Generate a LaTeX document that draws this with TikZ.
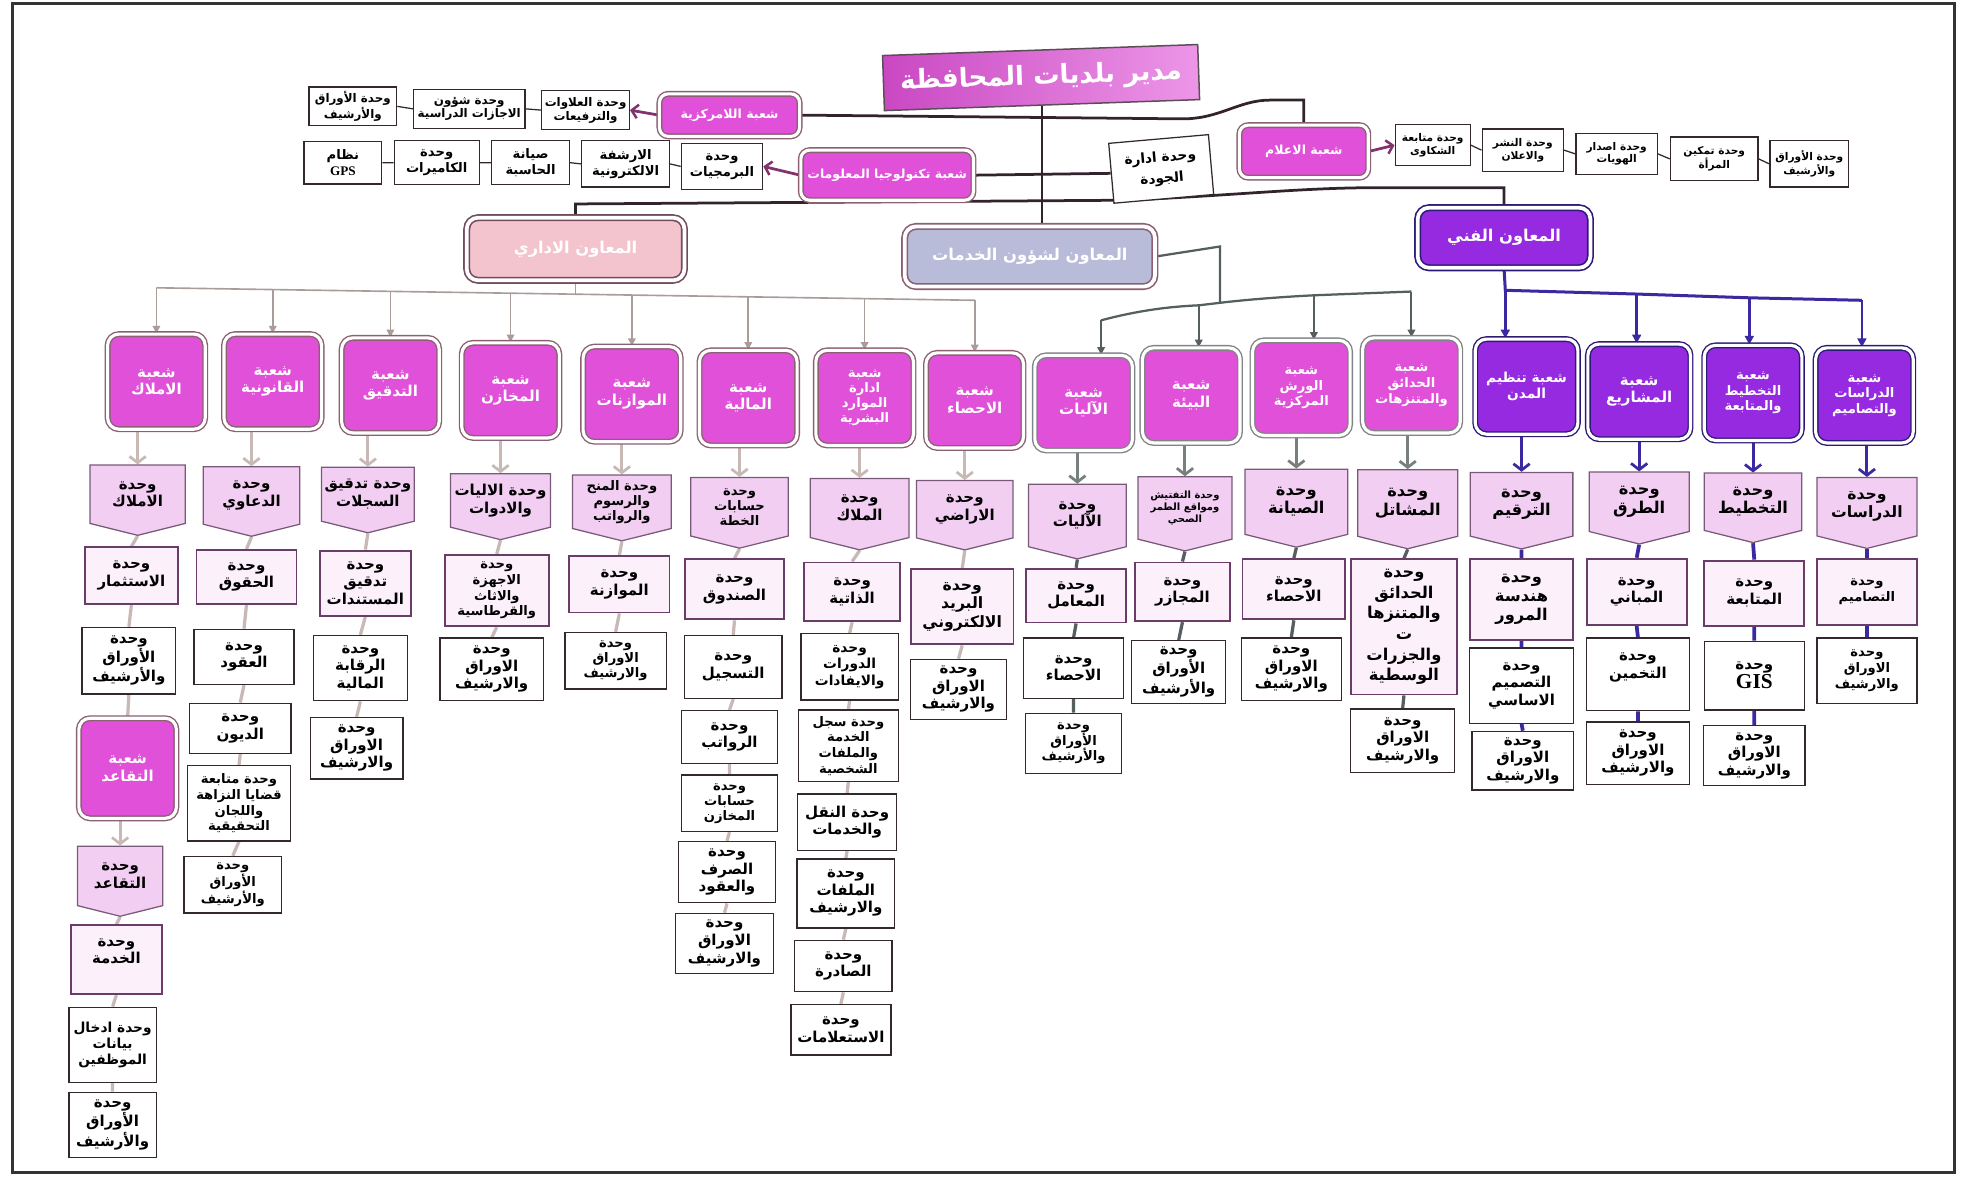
\documentclass[tikz,border=0pt]{standalone}
\usepackage{fontspec}
\newfontfamily\arabicfont[Script=Arabic]{DejaVu Sans}
\TeXXeTstate=1
\usetikzlibrary{shapes.symbols,arrows.meta,backgrounds}
\newcommand\AR[1]{\beginR#1\endR}
\newcommand\fs[2]{\arabicfont\bfseries\fontsize{#1}{#2}\selectfont}
\definecolor{magA}{RGB}{224,80,216}
\definecolor{purA}{RGB}{150,42,225}
\definecolor{purLine}{RGB}{45,25,120}
\definecolor{brLineA}{RGB}{140,95,115}
\definecolor{brLineS}{RGB}{130,130,135}
\definecolor{pentFill}{RGB}{242,206,242}
\definecolor{pentLine}{RGB}{120,90,120}
\definecolor{unitLine}{RGB}{50,40,45}
\definecolor{unitFill2}{RGB}{252,240,250}
\definecolor{unitLine2}{RGB}{105,60,105}
\definecolor{admCol}{RGB}{200,185,180}
\definecolor{servCol}{RGB}{85,95,95}
\definecolor{techCol}{RGB}{60,40,160}
\definecolor{topLine}{RGB}{50,35,45}
\definecolor{arrTop}{RGB}{130,50,110}
\definecolor{admFill}{RGB}{243,196,206}
\definecolor{servFill}{RGB}{185,188,217}
\tikzset{
 ar/.style={font=\fs{12}{14}, align=center, inner sep=1pt},
 unit/.style={ar, draw=unitLine, line width=1.1pt, fill=white, minimum width=78pt, minimum height=45pt},
 unitB/.style={unit, fill=unitFill2, draw=unitLine2, line width=1.5pt},
 pent/.style={ar, shape=signal, signal to=south, signal pointer angle=152, fill=pentFill, draw=pentLine, line width=1pt, minimum width=78pt, minimum height=52pt},
 br/.style={ar, font=\fs{12}{14}, text=white, rounded corners=9pt, fill=magA, draw=brLineA, double=white, double distance=2.5pt, line width=1.1pt, minimum width=78pt, minimum height=76pt},
 brS/.style={br, draw=brLineS},
 brT/.style={br, fill=purA, draw=purLine},
 tunit/.style={ar, font=\fs{9.5}{11}, draw=unitLine, line width=1pt, fill=white, minimum height=31pt},
 tbr/.style={ar, font=\fs{10}{12}, text=white, rounded corners=7pt, fill=magA, draw=brLineA, double=white, double distance=2.5pt, line width=1.1pt, minimum width=112pt, minimum height=34pt},
 asst/.style={ar, font=\fs{13}{15}, text=white, rounded corners=9pt, double=white, double distance=3pt, line width=1.3pt},
 topline/.style={draw=topLine, line width=2.2pt},
 tarrow/.style={draw=arrTop, line width=2.2pt, -{Straight Barb[length=5pt,width=11pt,line width=2pt]}},
 tchain/.style={draw=unitLine, line width=1pt},
 admBus/.style={draw=admCol!85!black, line width=1.3pt, -{Triangle[length=6pt,width=6pt]}},
 servBus/.style={draw=servCol, line width=1.6pt, -{Triangle[length=6pt,width=6pt]}},
 techBus/.style={draw=techCol, line width=2.2pt, -{Triangle[length=7pt,width=7pt]}},
 admArr/.style={draw=admCol, line width=2.4pt, -{Straight Barb[length=5pt,width=13pt,line width=2.2pt]}},
 servArr/.style={draw=servCol!80!white, line width=2.4pt, -{Straight Barb[length=5pt,width=13pt,line width=2.2pt]}},
 techArr/.style={draw=techCol, line width=2.4pt, -{Straight Barb[length=5pt,width=13pt,line width=2.2pt]}},
 admLn/.style={draw=admCol, line width=2.6pt},
 servLn/.style={draw=servCol, line width=2.6pt},
 techLn/.style={draw=techCol, line width=3pt},
}
\begin{document}
\begin{tikzpicture}[x=1pt,y=-1pt]
\useasboundingbox (0,0) rectangle (1568,944);
% ---------------- top ----------------
\node[ar, font=\fs{21}{24}, text=white, left color=magA!90!black, right color=magA!60!white, draw=topLine!80, line width=1.2pt, minimum width=252pt, minimum height=44pt, rotate=2] (T) at (832,62) {\AR{مدير بلديات المحافظة}};

\node[tbr] (Lam) at (583,92) {\AR{شعبة اللامركزية}};
\node[tunit, minimum width=70pt] (L1) at (468,88) {\AR{وحدة العلاوات}\\\AR{والترفيعات}};
\node[tunit, minimum width=89pt] (L2) at (375,87) {\AR{وحدة شؤون}\\\AR{الاجازات الدراسية}};
\node[tunit, minimum width=70pt] (L3) at (282,85) {\AR{وحدة الأوراق}\\\AR{والأرشيف}};

\node[tbr, minimum width=138pt, minimum height=40pt] (Tech) at (709,140) {\AR{شعبة تكنولوجيا المعلومات}};
\node[tunit, minimum width=65pt, minimum height=37pt, font=\fs{10.5}{12.5}] (I1) at (577,133) {\AR{وحدة}\\\AR{البرمجيات}};
\node[tunit, minimum width=70pt, minimum height=37pt, font=\fs{10.5}{12.5}] (I2) at (500,131) {\AR{الارشفة}\\\AR{الالكترونية}};
\node[tunit, minimum width=62pt, minimum height=35pt, font=\fs{10.5}{12.5}] (I3) at (424,130) {\AR{صيانة}\\\AR{الحاسبة}};
\node[tunit, minimum width=68pt, minimum height=35pt, font=\fs{10.5}{12.5}] (I4) at (349,130) {\AR{وحدة}\\\AR{الكاميرات}};
\node[tunit, minimum width=62pt, minimum height=34pt, font=\fs{10.5}{12.5}] (I5) at (274,130) {\AR{نظام}\\{\fontspec{Liberation Serif}\bfseries GPS}};

\node[tunit, minimum width=80pt, minimum height=48pt, font=\fs{11}{17}, rotate=5] (Q) at (928,135) {\AR{وحدة ادارة}\\\AR{الجودة}};

\node[tbr, minimum width=103pt, minimum height=42pt] (Ilam) at (1042,121) {\AR{شعبة الاعلام}};
\node[tunit, minimum width=60pt, minimum height=33pt, font=\fs{8.5}{10}] (M1) at (1145,116) {\AR{وحدة متابعة}\\\AR{الشكاوى}};
\node[tunit, minimum width=65pt, minimum height=34pt, font=\fs{8.5}{10}] (M2) at (1217,120) {\AR{وحدة النشر}\\\AR{والاعلان}};
\node[tunit, minimum width=65pt, minimum height=33pt, font=\fs{8.5}{10}] (M3) at (1292,123) {\AR{وحدة اصدار}\\\AR{الهويات}};
\node[tunit, minimum width=70pt, minimum height=35pt, font=\fs{8.5}{10}] (M4) at (1370,127) {\AR{وحدة تمكين}\\\AR{المرأة}};
\node[tunit, minimum width=63pt, minimum height=37pt, font=\fs{8.5}{10}] (M5) at (1446,131) {\AR{وحدة الأوراق}\\\AR{والأرشيف}};

\node[asst, fill=admFill, draw=brLineA!80!black, minimum width=174pt, minimum height=50pt] (Adm) at (460,199) {\AR{المعاون الاداري}};
\node[asst, fill=servFill, draw=brLineA, minimum width=200pt, minimum height=48pt] (Serv) at (823,205) {\AR{المعاون لشؤون الخدمات}};
\node[asst, fill=purA, draw=purLine, minimum width=138pt, minimum height=48pt] (Fanni) at (1202,190) {\AR{المعاون الفني}};

% ---------------- branches ----------------
\node[br] (b1) at (125,305) {\AR{شعبة}\\\AR{الاملاك}};
\node[br] (b2) at (218,305) {\AR{شعبة}\\\AR{القانونية}};
\node[br] (b3) at (312,308) {\AR{شعبة}\\\AR{التدقيق}};
\node[br] (b4) at (408,312) {\AR{شعبة}\\\AR{المخازن}};
\node[br] (b5) at (505,315) {\AR{شعبة}\\\AR{الموازنات}};
\node[br] (b6) at (598,318) {\AR{شعبة}\\\AR{المالية}};
\node[br, font=\fs{10.5}{12}] (b7) at (691,318) {\AR{شعبة}\\\AR{ادارة}\\\AR{الموارد}\\\AR{البشرية}};
\node[br] (b8) at (779,320) {\AR{شعبة}\\\AR{الاحصاء}};
\node[brS] (b9) at (866,322) {\AR{شعبة}\\\AR{الآليات}};
\node[brS] (b10) at (952,316) {\AR{شعبة}\\\AR{البيئة}};
\node[brS, font=\fs{10.5}{12.5}] (b11) at (1040,310) {\AR{شعبة}\\\AR{الورش}\\\AR{المركزية}};
\node[brS, font=\fs{10.5}{12.5}] (b12) at (1128,308) {\AR{شعبة}\\\AR{الحدائق}\\\AR{والمتنزهات}};
\node[brT, minimum width=82pt, font=\fs{11}{13}] (b13) at (1220,309) {\AR{شعبة تنظيم}\\\AR{المدن}};
\node[brT, minimum width=82pt] (b14) at (1310,313) {\AR{شعبة}\\\AR{المشاريع}};
\node[brT, font=\fs{10.5}{12.5}] (b15) at (1401,314) {\AR{شعبة}\\\AR{التخطيط}\\\AR{والمتابعة}};
\node[brT, font=\fs{10.5}{12.5}] (b16) at (1490,316) {\AR{شعبة}\\\AR{الدراسات}\\\AR{والتصاميم}};

% ---------------- column 1 ----------------
\node[pent, minimum width=76pt] (p1) at (110,395) {\AR{وحدة}\\\AR{الاملاك}};
\node[unitB, minimum width=74pt, minimum height=45pt] (u1a) at (105,460) {\AR{وحدة}\\\AR{الاستثمار}};
\node[unit, minimum width=75pt, minimum height=53pt] (u1b) at (103,528) {\AR{وحدة}\\\AR{الأوراق}\\\AR{والأرشيف}};
\node[br, minimum width=78pt, minimum height=80pt] (b1b) at (102,614) {\AR{شعبة}\\\AR{التقاعد}};
\node[pent, minimum width=68pt, minimum height=53pt] (p1b) at (96,700) {\AR{وحدة}\\\AR{التقاعد}};
\node[unitB, minimum width=73pt, minimum height=55pt] (u1c) at (93,767) {\AR{وحدة}\\\AR{الخدمة}\\~};
\node[unit, minimum width=70pt, minimum height=60pt, font=\fs{11}{13}] (u1d) at (90,835) {\AR{وحدة ادخال}\\\AR{بيانات}\\\AR{الموظفين}};
\node[unit, minimum width=70pt, minimum height=52pt] (u1e) at (90,899) {\AR{وحدة}\\\AR{الأوراق}\\\AR{والأرشيف}};
% ---------------- column 2 ----------------
\node[pent, minimum width=77pt] (p2) at (201,396) {\AR{وحدة}\\\AR{الدعاوي}};
\node[unitB, minimum width=80pt, minimum height=43pt] (u2a) at (197,461) {\AR{وحدة}\\\AR{الحقوق}};
\node[unit, minimum width=80pt, minimum height=44pt] (u2b) at (195,525) {\AR{وحدة}\\\AR{العقود}};
\node[unit, minimum width=81pt, minimum height=40pt] (u2c) at (192,582) {\AR{وحدة}\\\AR{الديون}};
\node[unit, minimum width=82pt, minimum height=60pt, font=\fs{10.5}{12.5}] (u2d) at (191,642) {\AR{وحدة متابعة}\\\AR{قضايا النزاهة}\\\AR{واللجان}\\\AR{التحقيقية}};
\node[unit, minimum width=78pt, minimum height=45pt, font=\fs{10.5}{12}] (u2e) at (186,707) {\AR{وحدة}\\\AR{الأوراق}\\\AR{والأرشيف}};
% ---------------- column 3 ----------------
\node[pent, minimum width=74pt] (p3) at (294,395) {\AR{وحدة تدقيق}\\\AR{السجلات}};
\node[unitB, minimum width=73pt, minimum height=52pt] (u3a) at (292,466) {\AR{وحدة}\\\AR{تدقيق}\\\AR{المستندات}};
\node[unit, minimum width=75pt, minimum height=52pt] (u3b) at (288,534) {\AR{وحدة}\\\AR{الرقابة}\\\AR{المالية}};
\node[unit, minimum width=74pt, minimum height=49pt] (u3c) at (285,598) {\AR{وحدة}\\\AR{الاوراق}\\\AR{والارشيف}};
% ---------------- column 4 ----------------
\node[pent, minimum width=80pt] (p4) at (400,400) {\AR{وحدة الاليات}\\\AR{والادوات}};
\node[unitB, minimum width=83pt, minimum height=57pt, font=\fs{10.5}{12.5}] (u4a) at (397,472) {\AR{وحدة}\\\AR{الاجهزة}\\\AR{والاثاث}\\\AR{والقرطاسية}};
\node[unit, minimum width=83pt, minimum height=50pt] (u4b) at (393,535) {\AR{وحدة}\\\AR{الاوراق}\\\AR{والارشيف}};
% ---------------- column 5 ----------------
\node[pent, minimum width=79pt, minimum height=50pt, font=\fs{10.5}{12}] (p5) at (497,401) {\AR{وحدة المنح}\\\AR{والرسوم}\\\AR{والرواتب}};
\node[unitB, minimum width=80pt, minimum height=45pt] (u5a) at (495,467) {\AR{وحدة}\\\AR{الموازنة}};
\node[unit, minimum width=81pt, minimum height=45pt, font=\fs{10.5}{12}] (u5b) at (492,528) {\AR{وحدة}\\\AR{الاوراق}\\\AR{والارشيف}};
% ---------------- column 6 ----------------
\node[pent, minimum width=78pt, font=\fs{10.5}{12}] (p6) at (591,405) {\AR{وحدة}\\\AR{حسابات}\\\AR{الخطة}};
\node[unitB, minimum width=79pt, minimum height=48pt] (u6a) at (587,471) {\AR{وحدة}\\\AR{الصندوق}};
\node[unit, minimum width=78pt, minimum height=50pt] (u6b) at (586,533) {\AR{وحدة}\\\AR{التسجيل}};
\node[unit, minimum width=77pt, minimum height=42pt] (u6c) at (583,589) {\AR{وحدة}\\\AR{الرواتب}};
\node[unit, minimum width=77pt, minimum height=45pt, font=\fs{10.5}{12}] (u6d) at (583,642) {\AR{وحدة}\\\AR{حسابات}\\\AR{المخازن}};
\node[unit, minimum width=78pt, minimum height=49pt] (u6e) at (581,697) {\AR{وحدة}\\\AR{الصرف}\\\AR{والعقود}};
\node[unit, minimum width=78pt, minimum height=48pt] (u6f) at (579,754) {\AR{وحدة}\\\AR{الاوراق}\\\AR{والارشيف}};
% ---------------- column 7 ----------------
\node[pent, minimum width=79pt] (p7) at (687,406) {\AR{وحدة}\\\AR{الملاك}};
\node[unitB, minimum width=77pt, minimum height=47pt] (u7a) at (681,473) {\AR{وحدة}\\\AR{الذاتية}};
\node[unit, minimum width=78pt, minimum height=53pt, font=\fs{11}{13}] (u7b) at (679,533) {\AR{وحدة}\\\AR{الدورات}\\\AR{والايفادات}};
\node[unit, minimum width=80pt, minimum height=57pt, font=\fs{10.5}{12.5}] (u7c) at (678,596) {\AR{وحدة سجل}\\\AR{الخدمة}\\\AR{والملفات}\\\AR{الشخصية}};
\node[unit, minimum width=79pt, minimum height=45pt] (u7d) at (677,657) {\AR{وحدة النقل}\\\AR{والخدمات}};
\node[unit, minimum width=78pt, minimum height=55pt] (u7e) at (676,714) {\AR{وحدة}\\\AR{الملفات}\\\AR{والارشيف}};
\node[unit, minimum width=78pt, minimum height=41pt] (u7f) at (674,772) {\AR{وحدة}\\\AR{الصادرة}};
\node[unit, minimum width=80pt, minimum height=40pt] (u7g) at (672,823) {\AR{وحدة}\\\AR{الاستعلامات}};
% ---------------- column 8 ----------------
\node[pent, minimum width=77pt] (p8) at (771,407) {\AR{وحدة}\\\AR{الاراضي}};
\node[unitB, minimum width=82pt, minimum height=60pt, font=\fs{12.5}{15}] (u8a) at (769,485) {\AR{وحدة}\\\AR{البريد}\\\AR{الالكتروني}};
\node[unit, minimum width=77pt, minimum height=48pt] (u8b) at (766,551) {\AR{وحدة}\\\AR{الاوراق}\\\AR{والارشيف}};
% ---------------- column 9 ----------------
\node[pent, minimum width=78pt, minimum height=55pt] (p9) at (861,412) {\AR{وحدة}\\\AR{الآليات}};
\node[unitB, minimum width=80pt, minimum height=43pt] (u9a) at (860,476) {\AR{وحدة}\\\AR{المعامل}};
\node[unit, minimum width=80pt, minimum height=48pt] (u9b) at (858,534) {\AR{وحدة}\\\AR{الاحصاء}};
\node[unit, minimum width=77pt, minimum height=48pt, font=\fs{10.5}{12.5}] (u9c) at (858,594) {\AR{وحدة}\\\AR{الأوراق}\\\AR{والأرشيف}};
% ---------------- column 10 ----------------
\node[pent, minimum width=75pt, minimum height=57pt, font=\fs{8}{9.5}] (p10) at (947,406) {\AR{وحدة التفتيش}\\\AR{ومواقع الطمر}\\\AR{الصحي}};
\node[unitB, minimum width=76pt, minimum height=47pt] (u10a) at (945,473) {\AR{وحدة}\\\AR{المجازر}};
\node[unit, minimum width=75pt, minimum height=50pt] (u10b) at (942,537) {\AR{وحدة}\\\AR{الأوراق}\\\AR{والأرشيف}};
% ---------------- column 11 ----------------
\node[pent, minimum width=82pt, minimum height=58pt, font=\fs{13}{15}] (p11) at (1036,401) {\AR{وحدة}\\\AR{الصيانة}};
\node[unitB, minimum width=82pt, minimum height=48pt] (u11a) at (1034,471) {\AR{وحدة}\\\AR{الاحصاء}};
\node[unit, minimum width=80pt, minimum height=50pt] (u11b) at (1032,535) {\AR{وحدة}\\\AR{الاوراق}\\\AR{والارشيف}};
% ---------------- column 12 ----------------
\node[pent, minimum width=80pt, minimum height=60pt, font=\fs{13}{15}] (p12) at (1125,402) {\AR{وحدة}\\\AR{المشاتل}};
\node[unitB, minimum width=85pt, minimum height=108pt, font=\fs{13}{16.5}] (u12a) at (1122,501) {\AR{وحدة}\\\AR{الحدائق}\\\AR{والمتنزها}\\\AR{ت}\\\AR{والجزرات}\\\AR{الوسطية}};
\node[unit, minimum width=83pt, minimum height=51pt] (u12b) at (1121,592) {\AR{وحدة}\\\AR{الاوراق}\\\AR{والارشيف}};
% ---------------- column 13 ----------------
\node[pent, minimum width=82pt, minimum height=57pt, font=\fs{13}{15}] (p13) at (1216,403) {\AR{وحدة}\\\AR{الترقيم}};
\node[unitB, minimum width=82pt, minimum height=65pt, font=\fs{13}{15.5}] (u13a) at (1216,479) {\AR{وحدة}\\\AR{هندسة}\\\AR{المرور}};
\node[unit, minimum width=83pt, minimum height=60pt] (u13b) at (1216,548) {\AR{وحدة}\\\AR{التصميم}\\\AR{الاساسي}};
\node[unit, minimum width=81pt, minimum height=47pt] (u13c) at (1217,608) {\AR{وحدة}\\\AR{الاوراق}\\\AR{والارشيف}};
% ---------------- column 14 ----------------
\node[pent, minimum width=80pt, minimum height=53pt, font=\fs{13}{15}] (p14) at (1310,401) {\AR{وحدة}\\\AR{الطرق}};
\node[unitB, minimum width=80pt, minimum height=53pt] (u14a) at (1308,473) {\AR{وحدة}\\\AR{المباني}};
\node[unit, minimum width=82pt, minimum height=58pt] (u14b) at (1309,539) {\AR{وحدة}\\\AR{التخمين}\\~};
\node[unit, minimum width=82pt, minimum height=50pt] (u14c) at (1309,602) {\AR{وحدة}\\\AR{الاوراق}\\\AR{والارشيف}};
% ---------------- column 15 ----------------
\node[pent, minimum width=78pt, minimum height=53pt, font=\fs{13}{15}] (p15) at (1401,401) {\AR{وحدة}\\\AR{التخطيط}};
\node[unitB, minimum width=80pt, minimum height=52pt] (u15a) at (1402,474) {\AR{وحدة}\\\AR{المتابعة}};
\node[unit, minimum width=80pt, minimum height=55pt] (u15b) at (1402,540) {\AR{وحدة}\\{\fontspec{Liberation Serif}\bfseries\fontsize{17}{19}\selectfont GIS}};
\node[unit, minimum width=81pt, minimum height=48pt] (u15c) at (1402,604) {\AR{وحدة}\\\AR{الاوراق}\\\AR{والارشيف}};
% ---------------- column 16 ----------------
\node[pent, minimum width=80pt, minimum height=54pt, font=\fs{12.5}{14.5}] (p16) at (1492,405) {\AR{وحدة}\\\AR{الدراسات}};
\node[unitB, minimum width=80pt, minimum height=53pt, font=\fs{10.5}{12.5}] (u16a) at (1492,473) {\AR{وحدة}\\\AR{التصاميم}};
\node[unit, minimum width=80pt, minimum height=52pt, font=\fs{10.5}{12.5}] (u16b) at (1492,536) {\AR{وحدة}\\\AR{الاوراق}\\\AR{والارشيف}};

% ---------------- connectors ----------------
\begin{pgfonlayer}{background}
\fill[white] (0,0) rectangle (1568,944);
\draw[line width=2pt, draw=black!80] (10,3) rectangle (1562,937);
% top
\coordinate (cLa) at (1042,80);
\draw[topline] (Lam.east) -- (945,95) .. controls (975,95) and (990,80) .. (1015,80) -- (cLa) -- (Ilam.north);
\draw[topline] (Tech.east) -- (Q.west);
\coordinate (cA1) at (460,163);
\coordinate (cF1) at (1202,150);
\draw[topline] (Adm.north) -- (cA1) -- (900,160) .. controls (990,156) and (1040,150) .. (1100,150) -- (cF1) -- (Fanni.north);
\draw[topline] (T.south) -- (T.south |- Serv.north);
\draw[tarrow] (Lam.west) -- (L1.east);
\draw[tchain] (L1.west) -- (L2.east) (L2.west) -- (L3.east);
\draw[tarrow] (Tech.west) -- (I1.east);
\draw[tchain] (I1.west) -- (I2.east) (I2.west) -- (I3.east) (I3.west) -- (I4.east) (I4.west) -- (I5.east);
\draw[tarrow] (Ilam.east) -- (M1.west);
\draw[tchain] (M1.east) -- (M2.west) (M2.east) -- (M3.west) (M3.east) -- (M4.west) (M4.east) -- (M5.west);
% admin bus
\coordinate (cA2) at (460,235);
\draw[draw=admCol!85!black, line width=1.3pt] (Adm.south) -- (cA2);
\draw[draw=admCol!85!black, line width=1.3pt] (125,230) -- (779,240);
\draw[admBus] (125,230) -- (b1.north);
\draw[admBus] (218,231.4) -- (b2.north);
\draw[admBus] (312,232.9) -- (b3.north);
\draw[admBus] (408,234.3) -- (b4.north);
\draw[admBus] (505,235.8) -- (b5.north);
\draw[admBus] (598,237.2) -- (b6.north);
\draw[admBus] (691,238.7) -- (b7.north);
\draw[admBus] (779,240) -- (b8.north);
% service bus
\coordinate (cS1) at (975,197);
\coordinate (cS2) at (975,242);
\draw[servCol, line width=1.8pt] (Serv.east) -- (cS1) -- (cS2);
\coordinate (dS9) at (880,256);
\coordinate (dS10) at (958,244);
\coordinate (dS11) at (1050,236);
\coordinate (dS12) at (1128,233);
\draw[servCol, line width=1.8pt] (dS9) .. controls (910,248) and (935,245) .. (dS10) -- (cS2) .. controls (1000,239) and (1030,237) .. (dS11) -- (dS12);
\draw[servBus] (dS9) -- (b9.north -| dS9);
\draw[servBus] (dS10) -- (b10.north -| dS10);
\draw[servBus] (dS11) -- (b11.north -| dS11);
\draw[servBus] (dS12) -- (b12.north -| dS12);
% technical bus
\coordinate (dT13) at (1203,232);
\coordinate (dT14) at (1308,235);
\coordinate (dT15) at (1398,238);
\coordinate (dT16) at (1488,240);
\draw[techCol, line width=2.4pt] (Fanni.south) -- (dT13) -- (dT14) -- (dT15) -- (dT16);
\draw[techBus] (dT13) -- (b13.north -| dT13);
\draw[techBus] (dT14) -- (b14.north -| dT14);
\draw[techBus] (dT15) -- (b15.north -| dT15);
\draw[techBus] (dT16) -- (b16.north -| dT16);
% column links
\draw[admArr] (b1.south -| p1.north) -- (p1.north);
\draw[admLn] (p1.south) -- (u1a.north) (u1a.south) -- (u1b.north) (u1b.south) -- (b1b.north) (p1b.south) -- (u1c.north) (u1c.south) -- (u1d.north) (u1d.south) -- (u1e.north);
\draw[admArr] (b1b.south -| p1b.north) -- (p1b.north);
\draw[admArr] (b2.south -| p2.north) -- (p2.north);
\draw[admLn] (p2.south) -- (u2a.north) (u2a.south) -- (u2b.north) (u2b.south) -- (u2c.north) (u2c.south) -- (u2d.north) (u2d.south) -- (u2e.north);
\draw[admArr] (b3.south -| p3.north) -- (p3.north);
\draw[admLn] (p3.south) -- (u3a.north) (u3a.south) -- (u3b.north) (u3b.south) -- (u3c.north);
\draw[admArr] (b4.south -| p4.north) -- (p4.north);
\draw[admLn] (p4.south) -- (u4a.north) (u4a.south) -- (u4b.north);
\draw[admArr] (b5.south -| p5.north) -- (p5.north);
\draw[admLn] (p5.south) -- (u5a.north) (u5a.south) -- (u5b.north);
\draw[admArr] (b6.south -| p6.north) -- (p6.north);
\draw[admLn] (p6.south) -- (u6a.north) (u6a.south) -- (u6b.north) (u6b.south) -- (u6c.north) (u6c.south) -- (u6d.north) (u6d.south) -- (u6e.north) (u6e.south) -- (u6f.north);
\draw[admArr] (b7.south -| p7.north) -- (p7.north);
\draw[admLn] (p7.south) -- (u7a.north) (u7a.south) -- (u7b.north) (u7b.south) -- (u7c.north) (u7c.south) -- (u7d.north) (u7d.south) -- (u7e.north) (u7e.south) -- (u7f.north) (u7f.south) -- (u7g.north);
\draw[admArr] (b8.south -| p8.north) -- (p8.north);
\draw[admLn] (p8.south) -- (u8a.north) (u8a.south) -- (u8b.north);
\draw[servArr] (b9.south -| p9.north) -- (p9.north);
\draw[servLn] (p9.south) -- (u9a.north) (u9a.south) -- (u9b.north) (u9b.south) -- (u9c.north);
\draw[servArr] (b10.south -| p10.north) -- (p10.north);
\draw[servLn] (p10.south) -- (u10a.north) (u10a.south) -- (u10b.north);
\draw[servArr] (b11.south -| p11.north) -- (p11.north);
\draw[servLn] (p11.south) -- (u11a.north) (u11a.south) -- (u11b.north);
\draw[servArr] (b12.south -| p12.north) -- (p12.north);
\draw[servLn] (p12.south) -- (u12a.north) (u12a.south) -- (u12b.north);
\draw[techArr] (b13.south -| p13.north) -- (p13.north);
\draw[techLn] (p13.south) -- (u13a.north) (u13a.south) -- (u13b.north) (u13b.south) -- (u13c.north);
\draw[techArr] (b14.south -| p14.north) -- (p14.north);
\draw[techLn] (p14.south) -- (u14a.north) (u14a.south) -- (u14b.north) (u14b.south) -- (u14c.north);
\draw[techArr] (b15.south -| p15.north) -- (p15.north);
\draw[techLn] (p15.south) -- (u15a.north) (u15a.south) -- (u15b.north) (u15b.south) -- (u15c.north);
\draw[techArr] (b16.south -| p16.north) -- (p16.north);
\draw[techLn] (p16.south) -- (u16a.north) (u16a.south) -- (u16b.north);
\end{pgfonlayer}
\end{tikzpicture}
\end{document}
